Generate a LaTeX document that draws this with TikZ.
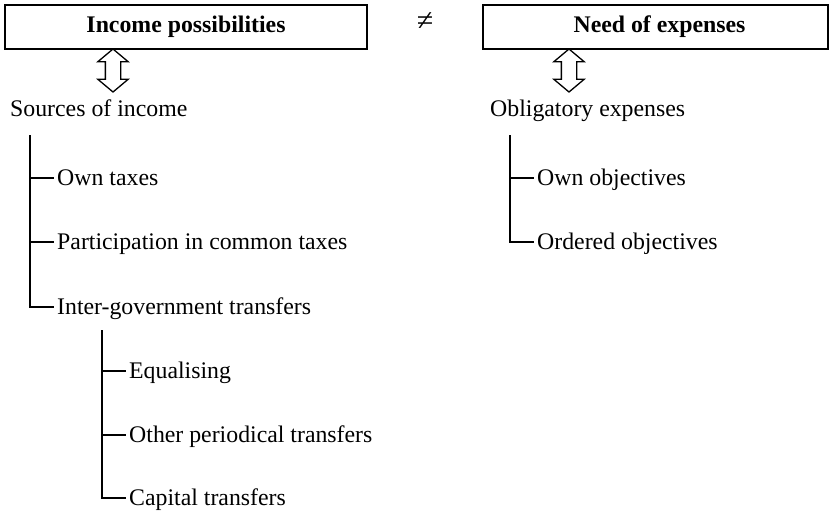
\documentclass[tikz,border=0pt]{standalone}
\usepackage{fontspec}
\setmainfont{Liberation Serif}
\usetikzlibrary{shapes.arrows}

\tikzset{
  headbox/.style={draw=black, line width=1.5pt, fill=white, minimum width=#1,
    minimum height=44pt, inner sep=0pt, font=\fontsize{23.8}{28}\selectfont\bfseries},
  dblarrow/.style={draw=black, line width=1.3pt, fill=white, shape=double arrow,
    rotate=90, minimum height=43pt, inner xsep=0pt, inner ysep=7pt,
    double arrow head extend=7.5pt, double arrow tip angle=100},
  item/.style={anchor=west, inner ysep=0pt, inner xsep=3pt, text height=15.8pt, text depth=0pt},
  branch/.style={line width=1.6pt}
}

\begin{document}
\begin{tikzpicture}[x=1pt, y=-1pt, font=\fontsize{23.8}{28}\selectfont]
  \useasboundingbox (0,0) rectangle (839,515);

  % headings
  \node[headbox=362pt] (income) at (186,27) {Income possibilities};
  \node[headbox=345pt] (need) at (655.5,27) {\hspace*{8pt}Need of expenses};
  \node[font=\fontsize{30}{32}\selectfont] (neq) at (425,22) {≠};

  % double arrows
  \node[dblarrow] (arr-in) at (113,70.5) {};
  \node[dblarrow] (arr-ex) at (569,70.5) {};

  % income side
  \node[item, inner xsep=1pt] (sources) at (9,109) {Sources of income};
  \coordinate (src-top) at (30,135);
  \node[item] (own-tax) at (54,178) {Own taxes};
  \node[item] (common-tax) at (54,242) {Participation in common taxes};
  \node[item] (transfers) at (54,307) {Inter-government transfers};
  \draw[branch] (src-top) |- (own-tax.west);
  \draw[branch] (src-top) |- (common-tax.west);
  \draw[branch] (src-top) |- (transfers.west);

  \coordinate (trf-top) at (102,330);
  \node[item] (equal) at (126,371) {Equalising};
  \node[item] (periodic) at (126,435) {Other periodical transfers};
  \node[item] (capital) at (126,498) {Capital transfers};
  \draw[branch] (trf-top) |- (equal.west);
  \draw[branch] (trf-top) |- (periodic.west);
  \draw[branch] (trf-top) |- (capital.west);

  % expenses side
  \node[item, inner xsep=1pt] (obligatory) at (489,109) {Obligatory expenses};
  \coordinate (obl-top) at (510,135);
  \node[item] (own-obj) at (534,178) {Own objectives};
  \node[item] (ord-obj) at (534,242) {Ordered objectives};
  \draw[branch] (obl-top) |- (own-obj.west);
  \draw[branch] (obl-top) |- (ord-obj.west);
\end{tikzpicture}
\end{document}
